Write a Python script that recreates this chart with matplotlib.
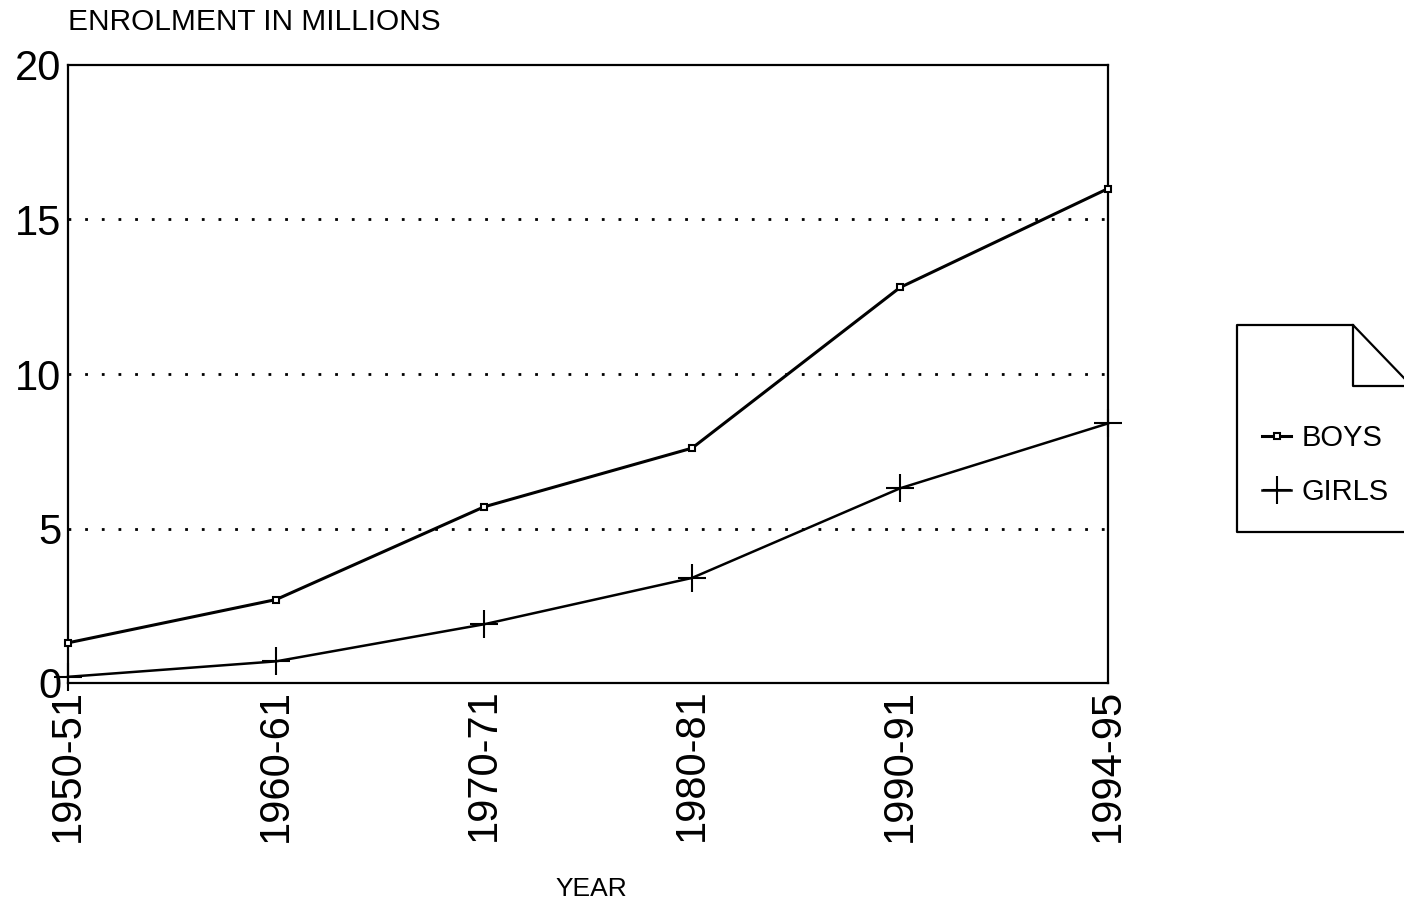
import matplotlib
matplotlib.use('Agg')
import matplotlib.pyplot as plt
from matplotlib.lines import Line2D

plt.rcParams['font.family'] = ['Liberation Sans', 'DejaVu Sans']

# data (enrolment in millions)
years = ['1950-51', '1960-61', '1970-71', '1980-81', '1990-91', '1994-95']
boys = [1.3, 2.7, 5.7, 7.6, 12.8, 16.0]
girls = [0.2, 0.7, 1.9, 3.4, 6.3, 8.4]
y_ticks = [0, 5, 10, 15, 20]
grid_levels = [5, 10, 15]

W, H = 1404, 908
fig = plt.figure(figsize=(W / 100, H / 100), dpi=100)
ax = fig.add_axes([68 / W, 1 - 683 / H, (1108 - 68) / W, (683 - 65) / H])

x = list(range(len(years)))

for lvl in grid_levels:
    ax.axhline(lvl, color='black', lw=2, linestyle=(0, (1, 5)), zorder=1)

l_boys, = ax.plot(x, boys, color='black', lw=2.2, marker='s', ms=5,
                  mfc='white', mec='black', mew=1.5, label='BOYS', zorder=3,
                  clip_on=False)
l_girls, = ax.plot(x, girls, color='black', lw=1.8, marker='+', ms=20,
                   mew=1.5, label='GIRLS', zorder=3, clip_on=False)

ax.set_xlim(0, len(years) - 1)
ax.set_ylim(0, 20)
ax.set_xticks(x)
ax.set_xticklabels(years, rotation=90, fontsize=30)
ax.set_yticks(y_ticks)
ax.set_yticklabels([str(v) for v in y_ticks], fontsize=30)
ax.tick_params(axis='both', length=0)
ax.tick_params(axis='x', pad=4)
ax.tick_params(axis='y', pad=5)
for s in ax.spines.values():
    s.set_linewidth(1.6)

fig.text(68 / W, 1 - 22 / H, 'ENROLMENT IN MILLIONS', fontsize=21.5,
         ha='left', va='center')
fig.text(591 / W, 1 - 889 / H, 'YEAR', fontsize=19, ha='center', va='center')

# legend box with folded corner (runs off the right edge)
box_pts = [(1404, 532), (1237, 532), (1237, 325), (1353, 325), (1404, 378)]
fig.add_artist(Line2D([p[0] / W for p in box_pts], [1 - p[1] / H for p in box_pts],
                      color='black', lw=1.6, transform=fig.transFigure))
fold = [(1353, 325), (1353, 386), (1404, 386)]
fig.add_artist(Line2D([p[0] / W for p in fold], [1 - p[1] / H for p in fold],
                      color='black', lw=1.6, transform=fig.transFigure))

ax.legend(handles=[l_boys, l_girls], loc='center left',
          bbox_to_anchor=(1262 / W, 1 - 465 / H), bbox_transform=fig.transFigure,
          frameon=False, fontsize=21, handlelength=1.0, handletextpad=0.35,
          labelspacing=0.9, borderpad=0, borderaxespad=0)

fig.savefig('out.png', dpi=100)
